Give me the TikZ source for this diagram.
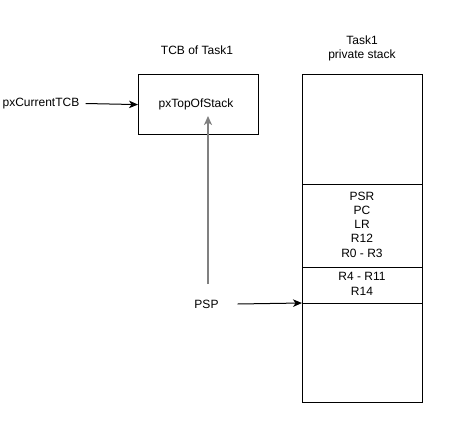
\documentclass[tikz,border=0pt]{standalone}
\usepackage{fontspec}
\setmainfont{Liberation Sans}
\usetikzlibrary{arrows.meta}
\begin{document}
\begin{tikzpicture}[x=1pt,y=-1pt,
  txt/.style={font=\fontsize{12}{14.3}\selectfont, inner sep=0pt, align=center},
  box/.style={draw, line width=1.2pt, inner sep=0pt, anchor=north west},
  arr/.style={line width=1pt, -{Stealth[length=9pt,width=7.5pt,inset=2.5pt]}},
  garr/.style={line width=1.8pt, draw={rgb,255:red,128;green,128;blue,128}, -{Stealth[length=9pt,width=8pt,inset=2.5pt]}}]
\useasboundingbox (0,0) rectangle (453,423);
% TCB
\node[box, minimum width=120pt, minimum height=60pt] (tcb) at (138,74) {};
\node[txt] (tos) at (196,104) {pxTopOfStack};
\node[txt] (tcbtitle) at (197,50) {TCB of Task1};
\node[txt] (cur) at (41,103.5) {pxCurrentTCB};
% stack
\node[box, minimum width=120pt, minimum height=110pt] (s1) at (302,74) {};
\node[box, minimum width=120pt, minimum height=83pt] (s2) at (302,184) {};
\node[box, minimum width=120pt, minimum height=36pt] (s3) at (302,267) {};
\node[box, minimum width=120pt, minimum height=99pt] (s4) at (302,303) {};
\node[txt] (sttitle) at (362,48.5) {Task1\\private stack};
\node[txt] (hw) at (362,224.5) {PSR\\PC\\LR\\R12\\R0 - R3};
\node[txt] (sw) at (362,284) {R4 - R11\\R14};
% PSP
\node[txt] (psp) at (206.5,304) {PSP};
\coordinate (gs) at (208,284);
\coordinate (gt) at (208,116);
% connectors
\draw[arr] ([xshift=6pt]cur.east) -- (tcb.west);
\draw[garr] (gs) -- (gt);
\draw[arr] ([xshift=19pt]psp.east) -- (s4.north west);
\end{tikzpicture}
\end{document}
